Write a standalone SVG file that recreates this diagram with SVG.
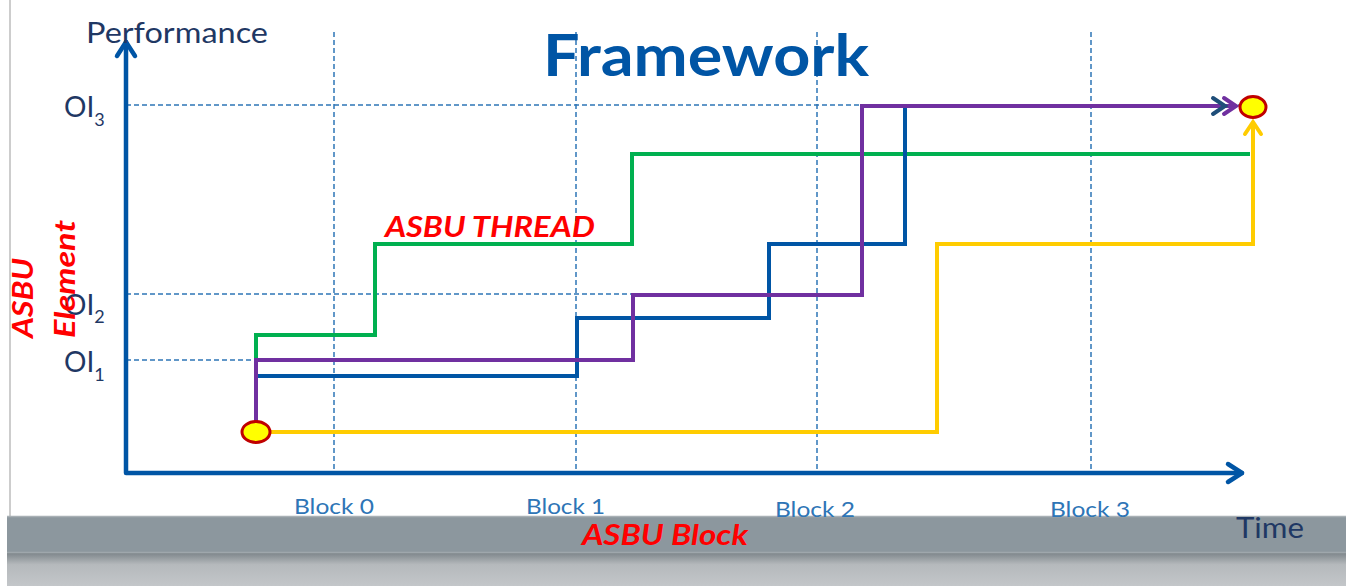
<svg xmlns="http://www.w3.org/2000/svg" width="1346" height="586" viewBox="0 0 1346 586">
<style>
.grid{stroke:#2E75B6;stroke-width:1.5;stroke-dasharray:5 3;fill:none}
.axis{stroke:#0055A5;stroke-width:4.5;fill:none;stroke-linecap:round;stroke-linejoin:round}
.ln{stroke-width:4;fill:none;stroke-linejoin:miter}
.lbl{font-family:Lato,"Open Sans",sans-serif;fill:#1F3864}
.blk{font-family:Lato,"Open Sans",sans-serif;fill:#2E75B6;font-size:21px}
.red{font-family:Lato,"Open Sans",sans-serif;fill:#FF0000;font-weight:bold;font-style:italic}
.node{fill:#FFFF00;stroke:#C00000;stroke-width:3}
</style>
<defs>
<linearGradient id="sh" x1="0" y1="0" x2="0" y2="1">
<stop offset="0" stop-color="#7E868B"/>
<stop offset="0.35" stop-color="#B5B9BC"/>
<stop offset="1" stop-color="#C3C6C9"/>
</linearGradient>
</defs>
<rect width="1346" height="586" fill="#FFFFFF"/>
<line x1="10" y1="0" x2="10" y2="516" stroke="#BDBDBD" stroke-width="1.5"/>
<rect x="7" y="553" width="1339" height="33" fill="url(#sh)"/>
<rect x="7" y="516" width="1339" height="37" fill="#8C979E"/>
<line x1="7" y1="516.5" x2="1346" y2="516.5" stroke="#A8B0B5" stroke-width="1.5"/>
<line x1="7" y1="552.5" x2="1346" y2="552.5" stroke="#9FA7AC" stroke-width="1.5"/>

<g id="grid">
<line class="grid" x1="334" y1="32" x2="334" y2="473"/>
<line class="grid" x1="576" y1="32" x2="576" y2="473"/>
<line class="grid" x1="817" y1="32" x2="817" y2="473"/>
<line class="grid" x1="1091" y1="32" x2="1091" y2="473"/>
<line class="grid" x1="126" y1="105" x2="1245" y2="105"/>
<line class="grid" x1="126" y1="294" x2="860" y2="294"/>
<line class="grid" x1="126" y1="360" x2="256" y2="360"/>
</g>

<g id="title"><text x="706" y="76" text-anchor="middle" font-family="Lato,'Open Sans',sans-serif" font-weight="bold" font-size="58" fill="#0055A5" textLength="326" lengthAdjust="spacingAndGlyphs">Framework</text></g>

<g id="axes">
<path class="axis" d="M126 42 V473 H1242"/>
<path class="axis" d="M117 56 L126 42 L135 56"/>
<path class="axis" d="M1228 464 L1242 473 L1228 482"/>
<text class="lbl" x="86" y="43" font-size="28" textLength="182" lengthAdjust="spacingAndGlyphs">Performance</text>
<text class="lbl" x="1236" y="538" font-size="28" textLength="68" lengthAdjust="spacingAndGlyphs">Time</text>
</g>

<g id="oi-labels">
<text class="lbl" x="64" y="117" font-size="28">OI<tspan font-size="18" dy="9">3</tspan></text>
<text class="lbl" x="64" y="315" font-size="28">OI<tspan font-size="18" dy="8">2</tspan></text>
<text class="lbl" x="64" y="372" font-size="28">OI<tspan font-size="18" dy="9">1</tspan></text>
</g>

<g id="block-labels">
<text class="blk" x="294" y="514" textLength="80" lengthAdjust="spacingAndGlyphs">Block 0</text>
<text class="blk" x="526" y="514" textLength="79" lengthAdjust="spacingAndGlyphs">Block 1</text>
<text class="blk" x="775" y="517" textLength="80" lengthAdjust="spacingAndGlyphs">Block 2</text>
<text class="blk" x="1050" y="517" textLength="80" lengthAdjust="spacingAndGlyphs">Block 3</text>
</g>

<g id="connectors">
<path class="ln" stroke="#FFCC00" d="M256 432 H937 V244 H1253 V124"/>
<path class="ln" stroke="#FFCC00" d="M1245 134 L1253 122 L1261 134" stroke-linecap="round" stroke-linejoin="round"/>
<path class="ln" stroke="#00B050" d="M256 360 V335 H375 V244 H632 V154 H1250"/>
<path class="ln" stroke="#0055A5" d="M258 376 H577 V318 H769 V244 H905 V106"/>
<path class="ln" stroke="#7030A0" d="M256 430 V360 H633 V295 H862 V106 H1234"/>
<path class="ln" stroke="#1F4E79" d="M1213 98 L1225 106 L1213 114" stroke-linecap="round" stroke-linejoin="round"/>
<path class="ln" stroke="#7030A0" d="M1224 98 L1236 106 L1224 114" stroke-linecap="round" stroke-linejoin="round"/>
</g>

<g id="start-node"><ellipse class="node" cx="256" cy="432" rx="14" ry="10.5"/></g>
<g id="end-node"><ellipse class="node" cx="1253" cy="107" rx="13" ry="10.5"/></g>

<g id="asbu-thread"><text class="red" x="385" y="237" font-size="28" textLength="210" lengthAdjust="spacingAndGlyphs">ASBU THREAD</text></g>
<g id="asbu-element">
<text class="red" transform="translate(33,338) rotate(-90)" font-size="28" textLength="80" lengthAdjust="spacingAndGlyphs">ASBU</text>
<text class="red" transform="translate(75,338) rotate(-90)" font-size="28" textLength="118" lengthAdjust="spacingAndGlyphs">Element</text>
</g>
<g id="asbu-block"><text class="red" x="582" y="545" font-size="28" textLength="166" lengthAdjust="spacingAndGlyphs">ASBU Block</text></g>
</svg>
